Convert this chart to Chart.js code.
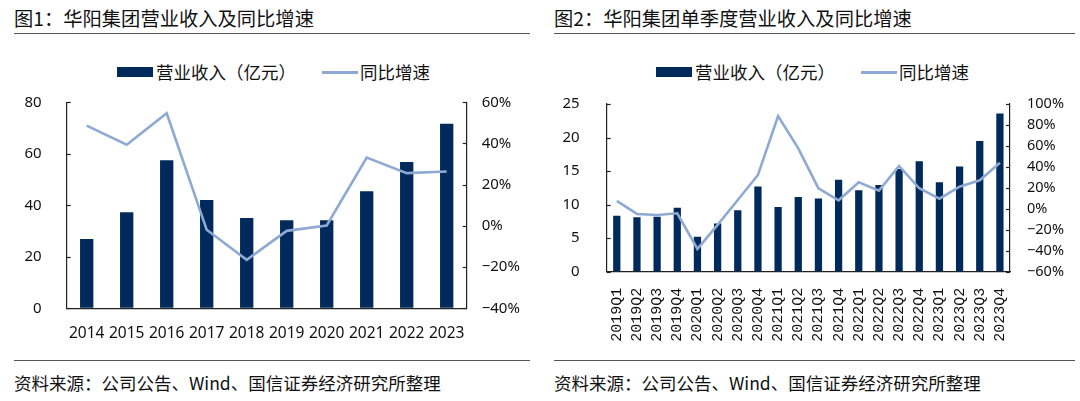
<!DOCTYPE html>
<html>
<head>
<meta charset="utf-8">
<script src="https://cdn.jsdelivr.net/npm/chart.js@4"></script>
<style>
  html, body { margin: 0; padding: 0; background: #fff; }
  body { width: 1080px; height: 401px; position: relative; overflow: hidden;
         font-family: "Noto Sans CJK SC", "Noto Sans", sans-serif; color: #111; }
  .title { position: absolute; top: 4px; font-size: 19.3px; white-space: nowrap; }
  .rule { position: absolute; height: 0; border-top: 1.5px solid #555; }
  .legend { position: absolute; top: 59px; height: 22px; font-size: 17.5px; line-height: 22px; white-space: nowrap; }
  .legend span { display: inline-block; vertical-align: middle; }
  .swatch-bar { width: 36px; height: 10px; background: #002a5c; margin-right: 3px; }
  .swatch-line { width: 36px; height: 3px; background: #8faad2; margin-right: 2px; margin-left: 26px; }
  .source { position: absolute; top: 370px; font-size: 17.5px; white-space: nowrap; }
  canvas { position: absolute; }
</style>
</head>
<body>
<div class="title" style="left:14px">图1：华阳集团营业收入及同比增速</div>
<div class="rule" style="left:14px; width:516px; top:33px"></div>
<div class="legend" style="left:117px"><span class="swatch-bar"></span><span>营业收入（亿元）</span><span class="swatch-line"></span><span>同比增速</span></div>

<div class="title" style="left:554px">图2：华阳集团单季度营业收入及同比增速</div>
<div class="rule" style="left:554px; width:521px; top:33px"></div>
<div class="legend" style="left:656px"><span class="swatch-bar"></span><span>营业收入（亿元）</span><span class="swatch-line"></span><span>同比增速</span></div>

<div style="position:absolute;left:0;top:90px;width:540px;height:260px"><canvas id="annualChart"></canvas></div>
<div style="position:absolute;left:540px;top:90px;width:540px;height:260px"><canvas id="quarterChart"></canvas></div>

<div class="rule" style="left:14px; width:516px; top:360px"></div>
<div class="rule" style="left:554px; width:521px; top:360px"></div>
<div class="source" style="left:14px">资料来源：公司公告、Wind、国信证券经济研究所整理</div>
<div class="source" style="left:554px">资料来源：公司公告、Wind、国信证券经济研究所整理</div>

<script>
// Annual data (chart 1)
const years = ['2014', '2015', '2016', '2017', '2018', '2019', '2020', '2021', '2022', '2023'];
const annualRevenue = [26.9, 37.3, 57.5, 42.1, 35.1, 34.2, 34.2, 45.5, 56.8, 71.7];
const annualGrowth = [48.7, 39.4, 54.7, -1.9, -16.5, -2.4, 0.2, 33.2, 25.6, 26.4];

// Quarterly data (chart 2)
const quarters = ['2019Q1', '2019Q2', '2019Q3', '2019Q4', '2020Q1', '2020Q2', '2020Q3', '2020Q4',
    '2021Q1', '2021Q2', '2021Q3', '2021Q4', '2022Q1', '2022Q2', '2022Q3', '2022Q4',
    '2023Q1', '2023Q2', '2023Q3', '2023Q4'];
const quarterRevenue = [8.35, 8.1, 8.2, 9.54, 5.2, 7.2, 9.15, 12.7, 9.64, 11.13, 10.93, 13.72,
    12.13, 12.92, 15.31, 16.45, 13.32, 15.7, 19.48, 23.6];
const quarterGrowth = [7.5, -4.9, -5.9, -4.3, -38.3, -15.4, 8.4, 32.3, 88.5, 57.7, 19.5, 8.1,
    25.3, 17.3, 40.9, 19.6, 9.7, 21.1, 27.2, 44.0];

const colors = {
    bar: '#002a5c',
    line: '#8faad2',
    axis: '#222',
    text: '#111',
};

// short tick marks pointing into the plot on both value axes
const innerTicks = {
    id: 'innerTicks',
    afterDraw(chart) {
        const ctx = chart.ctx;
        ctx.save();
        ctx.strokeStyle = colors.axis;
        ctx.lineWidth = 1.2;
        ['y', 'y1'].forEach(id => {
            const scale = chart.scales[id];
            const x = id === 'y' ? chart.chartArea.left : chart.chartArea.right;
            const dir = id === 'y' ? 1 : -1;
            scale.ticks.forEach(t => {
                const py = Math.round(scale.getPixelForValue(t.value)) + 0.5;
                ctx.beginPath();
                ctx.moveTo(x, py);
                ctx.lineTo(x + dir * 4, py);
                ctx.stroke();
            });
        });
        ctx.restore();
    }
};

// invisible tick marks only push the labels away from the axis line
const hiddenGrid = len => ({ display: true, drawOnChartArea: false, drawTicks: true, tickLength: len, tickColor: 'rgba(0,0,0,0)' });

function makeChart(canvasId, labels, bars, growth, opt) {
    return new Chart(document.getElementById(canvasId), {
        data: {
            labels: labels,
            datasets: [
                {
                    type: 'line',
                    label: '同比增速',
                    data: growth,
                    yAxisID: 'y1',
                    borderColor: colors.line,
                    borderWidth: 2.6,
                    pointRadius: 0,
                    tension: 0,
                    order: 0,
                },
                {
                    type: 'bar',
                    label: '营业收入（亿元）',
                    data: bars,
                    yAxisID: 'y',
                    backgroundColor: colors.bar,
                    categoryPercentage: 1,
                    barPercentage: opt.barPct,
                    order: 1,
                }
            ]
        },
        options: {
            responsive: true,
            maintainAspectRatio: false,
            animation: false,
            layout: { padding: { top: opt.top } },
            plugins: { legend: { display: false }, tooltip: { enabled: false } },
            scales: {
                x: {
                    grid: { display: false },
                    border: { display: true, color: colors.axis, width: 1.2 },
                    ticks: {
                        color: colors.text,
                        font: opt.xFont,
                        padding: opt.xPad,
                        minRotation: opt.rot,
                        maxRotation: opt.rot,
                        autoSkip: false,
                    },
                    afterFit: s => { s.height = opt.xHeight; }
                },
                y: {
                    position: 'left',
                    min: opt.yMin, max: opt.yMax,
                    grid: hiddenGrid(opt.leftGap),
                    border: { display: true, color: colors.axis, width: 1.2 },
                    ticks: { stepSize: opt.yStep, autoSkip: false, color: colors.text,
                             font: { family: 'Noto Sans', size: 15 }, padding: 3 },
                    afterFit: s => { s.width = opt.leftW; }
                },
                y1: {
                    position: 'right',
                    min: opt.y1Min, max: opt.y1Max,
                    grid: hiddenGrid(opt.rightGap),
                    border: { display: true, color: colors.axis, width: 1.2 },
                    ticks: { stepSize: 20, autoSkip: false, color: colors.text,
                             font: { family: 'Noto Sans', size: opt.rightSize }, padding: 3,
                             callback: v => (v < 0 ? '\u2212' + (-v) : v) + '%' },
                    afterFit: s => { s.width = opt.rightW; }
                }
            }
        },
        plugins: [innerTicks]
    });
}

makeChart('annualChart', years, annualRevenue, annualGrowth, {
    barPct: 0.333, top: 12.3,
    xFont: { family: 'Noto Sans', size: 15.5 }, xPad: 8, rot: 0, xHeight: 41.7,
    yMin: 0, yMax: 80, yStep: 20, leftGap: 22, leftW: 66.7,
    y1Min: -40, y1Max: 60, rightSize: 15, rightGap: 12, rightW: 73.3,
});

makeChart('quarterChart', quarters, quarterRevenue, quarterGrowth, {
    barPct: 0.36, top: 14,
    xFont: { family: 'Liberation Mono', size: 15 }, xPad: 8, rot: 90, xHeight: 78.3,
    yMin: 0, yMax: 25, yStep: 5, leftGap: 24, leftW: 66.7,
    y1Min: -60, y1Max: 100, rightSize: 14.5, rightGap: 14, rightW: 70,
});
</script>
</body>
</html>
